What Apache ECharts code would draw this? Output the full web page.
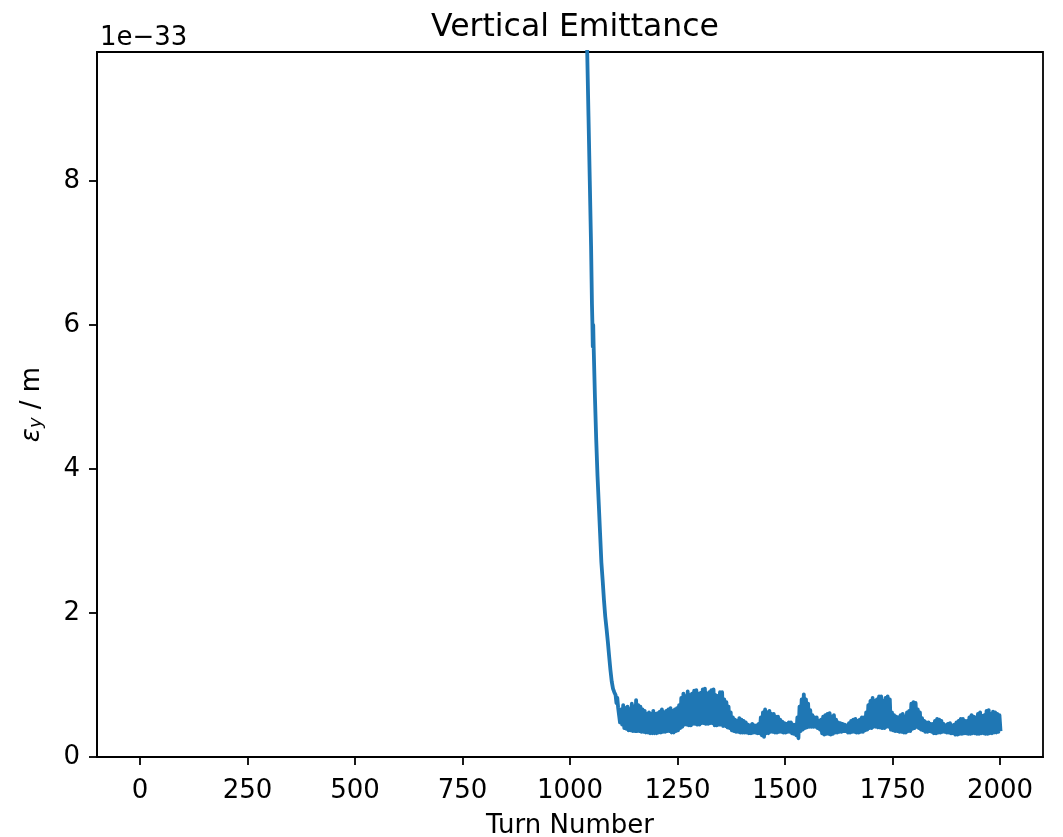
<!DOCTYPE html>
<html>
<head>
<meta charset="utf-8">
<script src="https://cdn.jsdelivr.net/npm/echarts@6/dist/echarts.min.js"></script>
<style>html,body{margin:0;padding:0;background:#fff;}#c{width:1063px;height:837px;}</style>
</head>
<body>
<div id="c"></div>
<script>
// Values in units of 1e-33 m
const xTicks = [0, 250, 500, 750, 1000, 1250, 1500, 1750, 2000];
const yTicks = [0, 2, 4, 6, 8];
const descentTurns  = [1030, 1040, 1043, 1046, 1049, 1051, 1052, 1053, 1054, 1055, 1058, 1061, 1064, 1067, 1070, 1073, 1076, 1079, 1082, 1085, 1088, 1091, 1094, 1097, 1100, 1103, 1106, 1108, 1110, 1112];
const descentValues = [13.0, 9.8, 8.9, 8.0, 7.1, 6.3, 6.05, 5.7, 6.0, 5.7, 5.0, 4.4, 3.9, 3.5, 3.1, 2.7, 2.45, 2.18, 1.95, 1.78, 1.6, 1.4, 1.21, 1.05, 0.95, 0.9, 0.86, 0.75, 0.82, 0.68];
// Fast oscillation band after turn 1115: upper and lower envelope, every 5 turns
const bandStartTurn = 1115;
const bandStep = 5;
const bandUpper = [
  .70,.66,.72,.68,.70,.66,.74,.70,.79,.72, .70,.66,.64,.60,.62,.60,.64,.60,.61,.63,
  .66,.62,.64,.66,.68,.64,.66,.68,.72,.82, .88,.84,.91,.86,.88,.92,.93,.88,.89,.94,
  .95,.88,.90,.93,.94,.86,.85,.90,.90,.80, .76,.70,.62,.55,.52,.50,.54,.52,.50,.48,
  .45,.44,.46,.44,.44,.46,.55,.62,.66,.62, .64,.60,.60,.56,.56,.52,.49,.47,.46,.48,
  .48,.45,.45,.55,.70,.80,.87,.80,.74,.65, .58,.55,.55,.50,.52,.56,.58,.60,.61,.56,
  .58,.52,.48,.47,.46,.45,.44,.47,.50,.52, .53,.50,.52,.55,.55,.62,.72,.78,.82,.78,
  .80,.84,.84,.78,.82,.84,.80,.62,.58,.56, .55,.58,.60,.56,.62,.64,.74,.76,.75,.66,
  .62,.54,.50,.48,.48,.46,.46,.50,.53,.52, .50,.46,.44,.46,.47,.44,.45,.48,.50,.53,
  .53,.50,.50,.55,.58,.56,.55,.60,.62,.57, .58,.64,.65,.60,.63,.62,.60,.58
];
const bandLower = [
  .48,.45,.40,.39,.37,.37,.36,.36,.36,.36, .35,.35,.34,.34,.33,.33,.33,.33,.34,.34,
  .35,.35,.36,.36,.34,.34,.36,.37,.40,.42, .45,.45,.44,.44,.46,.46,.45,.45,.47,.47,
  .46,.46,.47,.47,.44,.44,.45,.45,.43,.43, .41,.40,.37,.36,.35,.35,.34,.34,.34,.34,
  .33,.33,.34,.34,.33,.33,.30,.28,.33,.33, .35,.35,.34,.34,.35,.35,.34,.34,.35,.35,
  .33,.32,.30,.26,.36,.38,.40,.41,.42,.42, .42,.42,.40,.38,.33,.31,.32,.32,.31,.32,
  .34,.34,.35,.35,.36,.36,.34,.34,.35,.35, .34,.34,.35,.35,.37,.38,.40,.40,.42,.42,
  .41,.41,.40,.40,.42,.42,.38,.37,.36,.36, .35,.35,.34,.34,.36,.36,.39,.40,.42,.40,
  .38,.37,.35,.35,.36,.35,.33,.33,.34,.34, .35,.35,.34,.34,.33,.33,.31,.31,.32,.32,
  .33,.33,.32,.32,.33,.33,.32,.32,.33,.33, .32,.32,.33,.33,.34,.34,.35,.36
];

const data = [];
descentTurns.forEach((t, i) => data.push([t, descentValues[i]]));
bandUpper.forEach((u, i) => {
  const t = bandStartTurn + i * bandStep;
  data.push([t - 1.25, u]);
  data.push([t + 1.25, bandLower[i]]);
});

const FONT = 'DejaVu Sans';
const fmt = v => String(v);
const chart = echarts.init(document.getElementById('c'), null, {renderer: 'canvas'});
chart.setOption({
  animation: false,
  backgroundColor: '#fff',
  textStyle: {fontFamily: FONT, color: '#000'},
  title: [
    {text: 'Vertical Emittance', left: 570, top: 7, textAlign: 'center',
     textStyle: {fontFamily: FONT, fontSize: 31.5, fontWeight: 'normal', color: '#000'}},
    {text: '1e\u221233', left: 95, top: 20,
     textStyle: {fontFamily: FONT, fontSize: 26, fontWeight: 'normal', color: '#000'}}
  ],
  grid: {left: 97, right: 20, top: 52, bottom: 80, containLabel: false, outerBoundsMode: 'none',
         show: true, borderColor: '#000', borderWidth: 1.8, backgroundColor: 'transparent'},
  xAxis: {
    type: 'value', min: -100, max: 2100,
    name: 'Turn Number', nameLocation: 'middle', nameGap: 56,
    nameTextStyle: {fontFamily: FONT, fontSize: 26, color: '#000'},
    axisLine: {show: true, onZero: false, lineStyle: {color: '#000', width: 1.8}},
    axisTick: {show: true, customValues: xTicks, length: 8, lineStyle: {color: '#000', width: 1.8}},
    axisLabel: {customValues: xTicks, formatter: fmt, margin: 21, fontFamily: FONT, fontSize: 26, color: '#000'},
    splitLine: {show: false}
  },
  yAxis: {
    type: 'value', min: 0, max: 9.79,
    name: '{e|ε}{s|y}{n| / m}', nameLocation: 'middle', nameGap: 52, nameRotate: 90,
    nameTextStyle: {fontFamily: FONT, fontSize: 26, color: '#000',
      rich: {
        e: {fontFamily: FONT, fontSize: 26, fontStyle: 'italic', color: '#000'},
        s: {fontFamily: FONT, fontSize: 18, fontStyle: 'italic', color: '#000', verticalAlign: 'bottom', padding: [8, 0, 0, 0]},
        n: {fontFamily: FONT, fontSize: 26, color: '#000'}
      }},
    axisLine: {show: true, onZero: false, lineStyle: {color: '#000', width: 1.8}},
    axisTick: {show: true, customValues: yTicks, length: 8, lineStyle: {color: '#000', width: 1.8}},
    axisLabel: {customValues: yTicks, formatter: fmt, margin: 17, fontFamily: FONT, fontSize: 26, color: '#000'},
    splitLine: {show: false}
  },
  series: [{
    type: 'line', data: data, showSymbol: false, clip: true,
    lineStyle: {color: '#1f77b4', width: 3.8, join: 'round'},
    itemStyle: {color: '#1f77b4'}
  }]
});
</script>
</body>
</html>
